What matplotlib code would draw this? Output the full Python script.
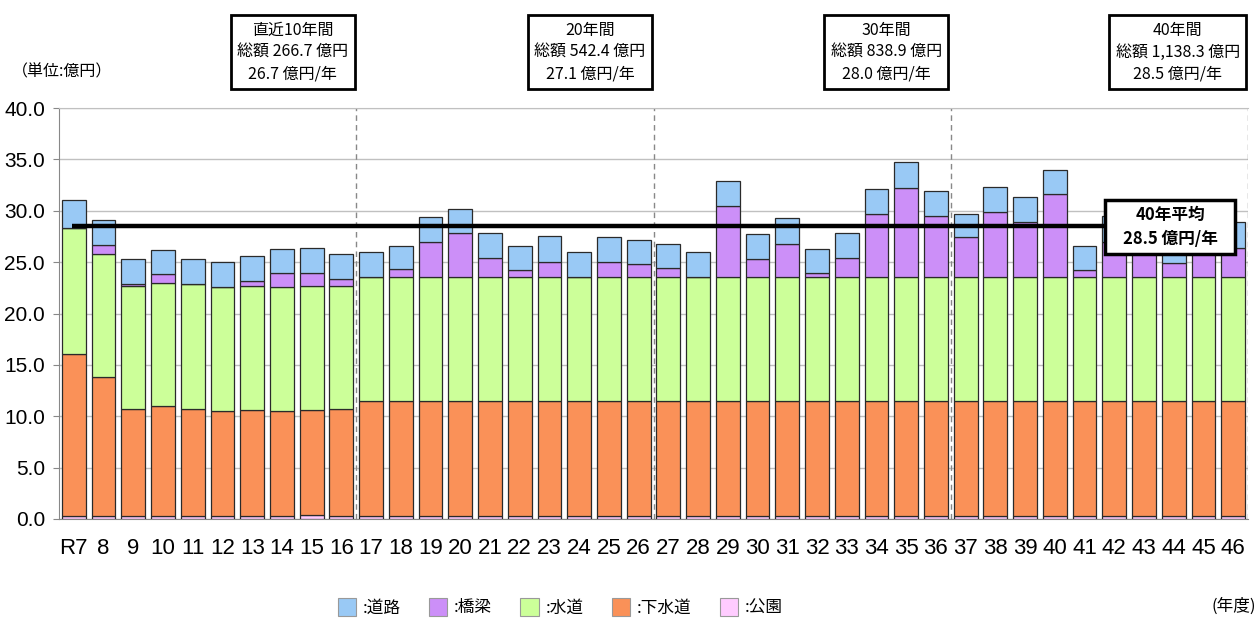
import matplotlib
matplotlib.use("Agg")
import matplotlib.pyplot as plt
import numpy as np
from matplotlib.patches import Patch, Rectangle
from matplotlib.ticker import FormatStrFormatter
from matplotlib.transforms import blended_transform_factory

# --- data (億円) ---
years = ["R7", "8", "9", "10", "11", "12", "13", "14", "15", "16",
         "17", "18", "19", "20", "21", "22", "23", "24", "25", "26",
         "27", "28", "29", "30", "31", "32", "33", "34", "35", "36",
         "37", "38", "39", "40", "41", "42", "43", "44", "45", "46"]

park = [0.3, 0.3, 0.3, 0.3, 0.3, 0.3, 0.3, 0.3, 0.4, 0.3,
        0.3, 0.3, 0.3, 0.3, 0.3, 0.3, 0.3, 0.3, 0.3, 0.3,
        0.3, 0.3, 0.3, 0.3, 0.3, 0.3, 0.3, 0.3, 0.3, 0.3,
        0.3, 0.3, 0.3, 0.3, 0.3, 0.3, 0.3, 0.3, 0.3, 0.3]
sewer = [15.8, 13.5, 10.4, 10.7, 10.4, 10.2, 10.3, 10.2, 10.2, 10.4,
         11.2, 11.2, 11.2, 11.2, 11.2, 11.2, 11.2, 11.2, 11.2, 11.2,
         11.2, 11.2, 11.2, 11.2, 11.2, 11.2, 11.2, 11.2, 11.2, 11.2,
         11.2, 11.2, 11.2, 11.2, 11.2, 11.2, 11.2, 11.2, 11.2, 11.2]
water = [12.2, 12.0, 12.0, 12.0, 12.2, 12.1, 12.1, 12.1, 12.1, 12.0,
         12.1, 12.1, 12.1, 12.1, 12.1, 12.1, 12.1, 12.1, 12.1, 12.1,
         12.1, 12.1, 12.1, 12.1, 12.1, 12.1, 12.1, 12.1, 12.1, 12.1,
         12.1, 12.1, 12.1, 12.1, 12.1, 12.1, 12.1, 12.1, 12.1, 12.1]
bridge = [0.0, 0.9, 0.2, 0.8, 0.0, 0.0, 0.5, 1.3, 1.2, 0.7,
          0.0, 0.7, 3.4, 4.2, 1.8, 0.6, 1.4, 0.0, 1.4, 1.2,
          0.8, 0.0, 6.9, 1.7, 3.2, 0.3, 1.8, 6.1, 8.6, 5.9,
          3.8, 6.3, 5.3, 8.0, 0.6, 3.4, 4.0, 1.3, 3.8, 2.8]
road = [2.7, 2.4, 2.4, 2.4, 2.4, 2.4, 2.4, 2.4, 2.5, 2.4,
        2.4, 2.3, 2.4, 2.4, 2.4, 2.4, 2.5, 2.4, 2.4, 2.4,
        2.4, 2.4, 2.4, 2.4, 2.5, 2.4, 2.4, 2.4, 2.5, 2.4,
        2.3, 2.4, 2.4, 2.4, 2.4, 2.5, 2.4, 2.4, 2.4, 2.5]

series_names = [":公園", ":下水道", ":水道", ":橋梁", ":道路"]
series_colors = ["#FFCCFF", "#FA9158", "#CCFF99", "#CC8FF8", "#99C9F5"]

average = 28.5
period_notes = [
    "直近10年間\n総額 266.7 億円\n26.7 億円/年",
    "20年間\n総額 542.4 億円\n27.1 億円/年",
    "30年間\n総額 838.9 億円\n28.0 億円/年",
    "40年間\n総額 1,138.3 億円\n28.5 億円/年",
]
average_note = "40年平均\n28.5 億円/年"

JP = ["Noto Sans CJK JP", "DejaVu Sans"]
NUM = ["Liberation Sans Narrow", "Liberation Sans", "DejaVu Sans"]

W, H = 1259, 622
fig = plt.figure(figsize=(W / 100, H / 100), dpi=100)
ax = fig.add_axes([59 / W, 1 - 519 / H, (1248 - 59) / W, (519 - 108) / H])

x = np.arange(len(years))
bottom = np.zeros(len(years))
for vals, color in zip([park, sewer, water, bridge, road], series_colors):
    ax.bar(x, vals, 0.8, bottom=bottom, color=color,
           edgecolor="#2a2a2a", linewidth=0.9, zorder=3)
    bottom += np.array(vals)

ax.set_xlim(-0.5, len(years) - 0.5)
ax.set_ylim(0, 40)
ax.set_yticks(np.arange(0, 41, 5))
ax.yaxis.set_major_formatter(FormatStrFormatter("%.1f"))
ax.set_xticks(x)
ax.set_xticklabels(years)
for lab in ax.get_xticklabels() + ax.get_yticklabels():
    lab.set_family(NUM)
ax.tick_params(axis="x", length=0, pad=14, labelsize=16)
ax.tick_params(axis="y", length=4, color="#888888", pad=6, labelsize=15)
ax.yaxis.grid(True, color="#c0c0c0", linewidth=1, zorder=0)
ax.set_axisbelow(True)

ax.spines["right"].set_visible(False)
ax.spines["top"].set_color("#c0c0c0")
ax.spines["left"].set_color("#888888")
ax.spines["bottom"].set_color("#888888")

# period separators
for xv in [9.5, 19.5, 29.5, 39.5]:
    ax.axvline(xv, color="#888888", linestyle=(0, (4, 3)), linewidth=1, zorder=2)

# 40-year average line and its label
ax.hlines(average, -0.05, 38.0, color="black", linewidth=3.2, zorder=4)
ax.add_patch(Rectangle((34.69, 25.8), 4.37, 5.25, facecolor="white",
                       edgecolor="black", linewidth=2.5, zorder=5))
ax.text(36.88, 28.4, average_note, ha="center", va="center", fontsize=12,
        fontweight="bold", family=JP, linespacing=1.45, zorder=6)

# period summary boxes above the plot
trans = blended_transform_factory(ax.transData, fig.transFigure)
for cx, note in zip([7.36, 17.36, 27.33, 37.14], period_notes):
    ax.text(cx, 1 - 52 / H, note, transform=trans, ha="center", va="center",
            fontsize=11.5, family=JP, linespacing=1.38,
            bbox=dict(boxstyle="square,pad=0.4", facecolor="white",
                      edgecolor="black", linewidth=2))

fig.text(12 / W, 1 - 72 / H, "（単位:億円）", ha="left", va="center",
         fontsize=11.5, family=JP)
fig.text(1256 / W, 1 - 606 / H, "(年度)", ha="right", va="center",
         fontsize=12, family=JP)

handles = [Patch(facecolor=c, edgecolor="#999999", linewidth=0.8)
           for c in series_colors[::-1]]
fig.legend(handles, series_names[::-1], loc="center",
           bbox_to_anchor=(0.445, 1 - 607 / H), ncol=5, frameon=False,
           prop={"family": JP, "size": 12}, handlelength=1.1,
           handleheight=1.3, handletextpad=0.4, columnspacing=1.7)

fig.savefig("out.png", dpi=100)
